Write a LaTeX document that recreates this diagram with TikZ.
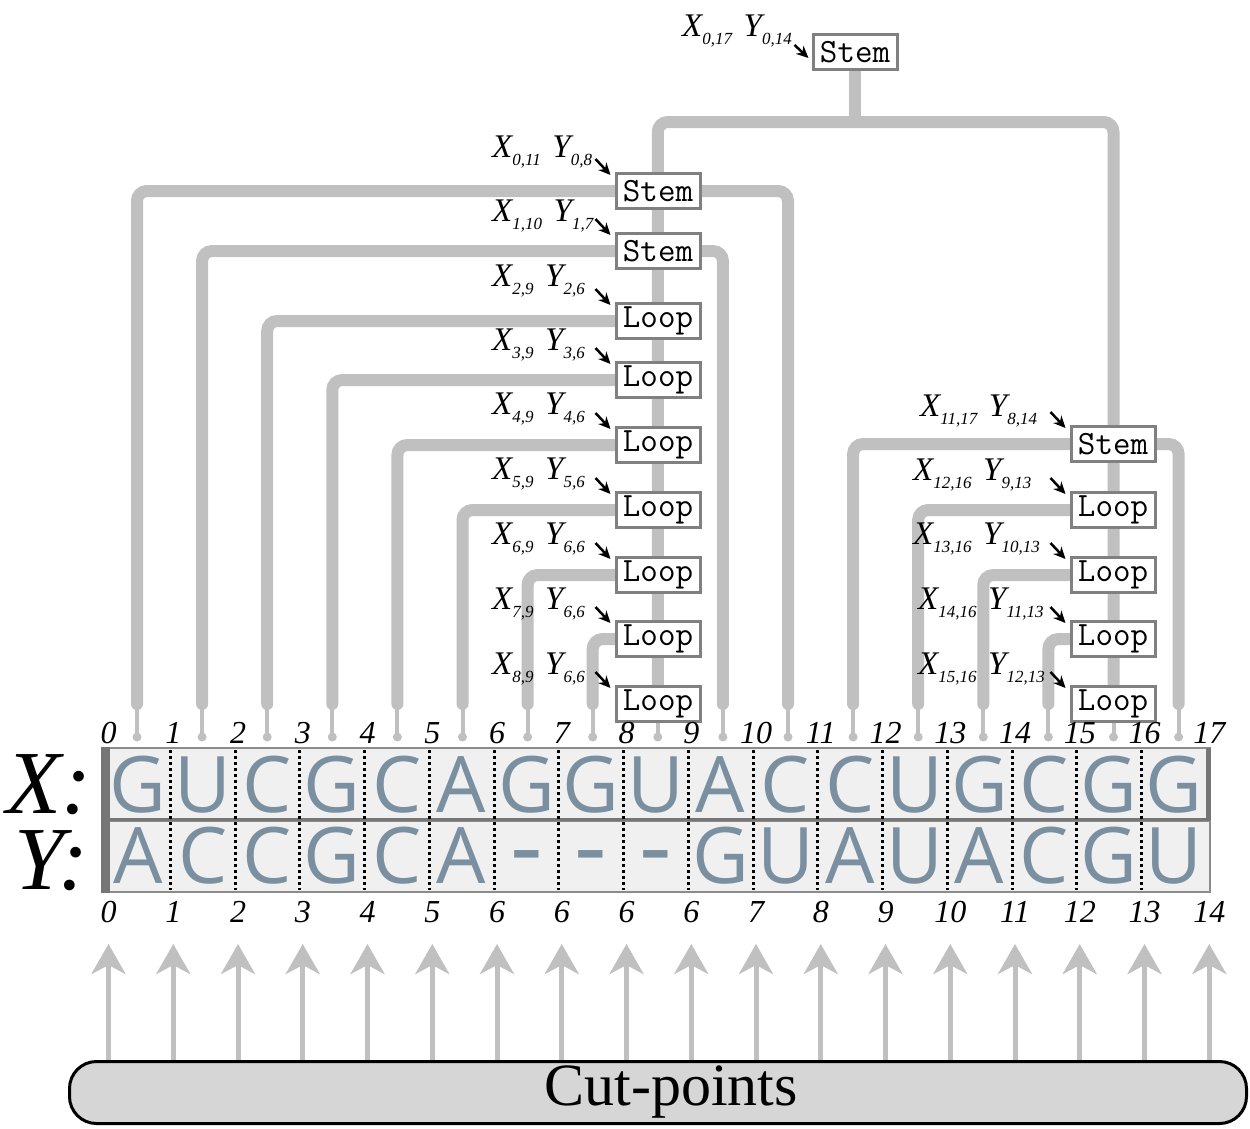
\documentclass[tikz,border=0pt]{standalone}
\usepackage{fontspec}
\setmainfont{Liberation Serif}
\newfontfamily\seqf{Open Sans}
\usetikzlibrary{arrows.meta,calc,backgrounds}
\definecolor{treegray}{RGB}{192,192,192}
\definecolor{boxedge}{RGB}{128,128,128}
\definecolor{seqcol}{RGB}{122,143,160}
\definecolor{rowfill}{RGB}{240,240,240}
\definecolor{rowedge}{RGB}{140,140,140}
\definecolor{rowdark}{RGB}{118,118,118}
\definecolor{cutfill}{RGB}{214,214,214}
\newcommand\sbs[1]{\raisebox{-0.27em}{\fontsize{17}{17}\selectfont #1}}
\newcommand\lbl[2]{X\sbs{#1}\hspace{0.35em}Y\sbs{#2}}
\begin{document}
\begin{tikzpicture}[x=1pt,y=-1pt,
  tree/.style={draw=treegray,line width=12pt,rounded corners=10pt,line cap=round},
  pinline/.style={draw=treegray,line width=4pt},
  nodebox/.style={draw=boxedge,line width=3pt,fill=white,minimum width=84pt,minimum height=35pt,inner sep=0pt,font=\ttfamily\fontsize{34}{34}\selectfont},
  lab/.style={inner sep=0pt,anchor=base west,font=\fontsize{33}{33}\selectfont\itshape},
  lblarrow/.style={draw=black,line width=2.5pt,-{Stealth[length=12pt,width=11pt]}},
  idx/.style={inner sep=0pt,font=\fontsize{32}{32}\selectfont\itshape},
  seq/.style={inner sep=0pt,text=seqcol,font=\seqf\fontsize{78}{78}\selectfont},
  dotline/.style={draw=black,line width=3pt,dash pattern=on 3pt off 3pt},
  cutarrow/.style={draw=treegray,line width=5pt,-{Stealth[length=30pt,width=34pt,inset=9pt]}},
  cutbox/.style={draw=black,line width=3pt,fill=cutfill,rounded corners=27pt,minimum width=1177pt,minimum height=62pt,inner sep=0pt,font=\fontsize{60}{60}\selectfont}
]
\useasboundingbox (0,0) rectangle (1250,1128);

% leaf coordinates
\foreach \j in {0,...,16} {
  \coordinate (p\j) at ({137+65.1*\j},704);
  \coordinate (d\j) at ({137+65.1*\j},737);
}
\coordinate (tj) at (855,122);

% tree boxes
\node[nodebox] (s0) at (855,52) {Stem};
\node[nodebox] (a1) at (658,191) {Stem};
\node[nodebox] (a2) at (658,251) {Stem};
\node[nodebox] (a3) at (658,321) {Loop};
\node[nodebox] (a4) at (658,380) {Loop};
\node[nodebox] (a5) at (658,445) {Loop};
\node[nodebox] (a6) at (658,510) {Loop};
\node[nodebox] (a7) at (658,575) {Loop};
\node[nodebox] (a8) at (658,639) {Loop};
\node[nodebox] (a9) at (658,704) {Loop};
\node[nodebox] (r1) at (1113,444) {Stem};
\node[nodebox] (r2) at (1113,510) {Loop};
\node[nodebox] (r3) at (1113,575) {Loop};
\node[nodebox] (r4) at (1113,639) {Loop};
\node[nodebox] (r5) at (1113,704) {Loop};

% labels
\node[lab] (ls0) at (682,36) {\lbl{0,17}{0,14}};
\node[lab] (la1) at (492,157) {\lbl{0,11}{0,8}};
\node[lab] (la2) at (492,221) {\lbl{1,10}{1,7}};
\node[lab] (la3) at (492,286) {\lbl{2,9}{2,6}};
\node[lab] (la4) at (492,350) {\lbl{3,9}{3,6}};
\node[lab] (la5) at (492,414) {\lbl{4,9}{4,6}};
\node[lab] (la6) at (492,479) {\lbl{5,9}{5,6}};
\node[lab] (la7) at (492,544) {\lbl{6,9}{6,6}};
\node[lab] (la8) at (492,609) {\lbl{7,9}{6,6}};
\node[lab] (la9) at (492,674) {\lbl{8,9}{6,6}};
\node[lab] (lr1) at (920,416) {\lbl{11,17}{8,14}};
\node[lab] (lr2) at (913,480) {\lbl{12,16}{9,13}};
\node[lab] (lr3) at (913,544) {\lbl{13,16}{10,13}};
\node[lab] (lr4) at (918,609) {\lbl{14,16}{11,13}};
\node[lab] (lr5) at (918,674) {\lbl{15,16}{12,13}};

% label arrows
\draw[lblarrow] ([shift={(-17,12)}]s0.north west) -- ([shift={(-3,25)}]s0.north west);
\foreach \b in {a1,a2,a3,a4,a5,a6,a7,a8,a9,r1,r2,r3,r4,r5}
  \draw[lblarrow] ([shift={(-19,-13)}]\b.north west) -- ([shift={(-4,3)}]\b.north west);

% tree lines (behind)
\begin{scope}[on background layer]
\fill[white] (0,0) rectangle (1250,1128);
\draw[tree] (s0.center) -- (tj);
\draw[tree] (p8) |- (tj) -| (p15);
\draw[tree] (p0) |- (a1.center) -| (p10);
\draw[tree] (p1) |- (a2.center) -| (p9);
\draw[tree] (p2) |- (a3.center);
\draw[tree] (p3) |- (a4.center);
\draw[tree] (p4) |- (a5.center);
\draw[tree] (p5) |- (a6.center);
\draw[tree] (p6) |- (a7.center);
\draw[tree] (p7) |- (a8.center);
\draw[tree] (p11) |- (r1.center) -| (p16);
\draw[tree] (p12) |- (r2.center);
\draw[tree] (p13) |- (r3.center);
\draw[tree] (p14) |- (r4.center);
\foreach \j in {0,...,16} {
  \draw[pinline] (p\j) -- (d\j);
  \fill[treegray] (d\j) circle (4.5);
}
\end{scope}

% sequence rows
\fill[rowfill] (102,748) rectangle (1210,819);
\fill[rowfill] (102,821) rectangle (1210,892);
\draw[rowedge,line width=2.5pt] (102,748) rectangle (1210,819);
\draw[rowedge,line width=2.5pt] (102,821) rectangle (1210,892);
\fill[rowdark] (101,747) rectangle (110,820);
\fill[rowdark] (101,820) rectangle (110,893);
\fill[rowdark] (1206,748) rectangle (1211,820);
\draw[rowdark,line width=3pt] (110,819.5) -- (1210,819.5);

\node[inner sep=0pt,anchor=base west,font=\fontsize{90}{90}\selectfont\itshape] (xl) at (6,813) {X:};
\node[inner sep=0pt,anchor=base west,font=\fontsize{90}{90}\selectfont\itshape] (yl) at (14,889) {Y:};

\foreach \c [count=\j from 0] in {G,U,C,G,C,A,G,G,U,A,C,C,U,G,C,G,G}
  \node[seq] (sx\j) at ({137.9+64.75*\j},785) {\c};
\foreach \c/\j in {A/0,C/1,C/2,G/3,C/4,A/5,G/9,U/10,A/11,U/12,A/13,C/14,G/15,U/16}
  \node[seq] (sy\j) at ({137.9+64.75*\j},856) {\c};
\foreach \j in {6,7,8}
  \node[seq] (sy\j) at ({137.9+64.75*\j},866) {\scalebox{1.3}{-}};

\foreach \i in {1,...,16}
  \draw[dotline] ({105.5+64.75*\i},750) -- ({105.5+64.75*\i},890);

% index labels
\foreach \i in {0,...,17}
  \node[idx] (tx\i) at ({108.5+64.75*\i},733) {\i};
\foreach \i/\v in {0/0,1/1,2/2,3/3,4/4,5/5,6/6,7/6,8/6,9/6,10/7,11/8,12/9,13/10,14/11,15/12,16/13,17/14}
  \node[idx] (bx\i) at ({108.5+64.75*\i},912) {\v};

% cut points
\node[cutbox] (cut) at (658,1092.5) {\hspace*{26pt}Cut-points};
\foreach \i in {0,...,17} {
  \coordinate (ct\i) at ({108.5+64.75*\i},944);
  \draw[cutarrow] (cut.north -| ct\i) -- (ct\i);
}
\end{tikzpicture}
\end{document}
